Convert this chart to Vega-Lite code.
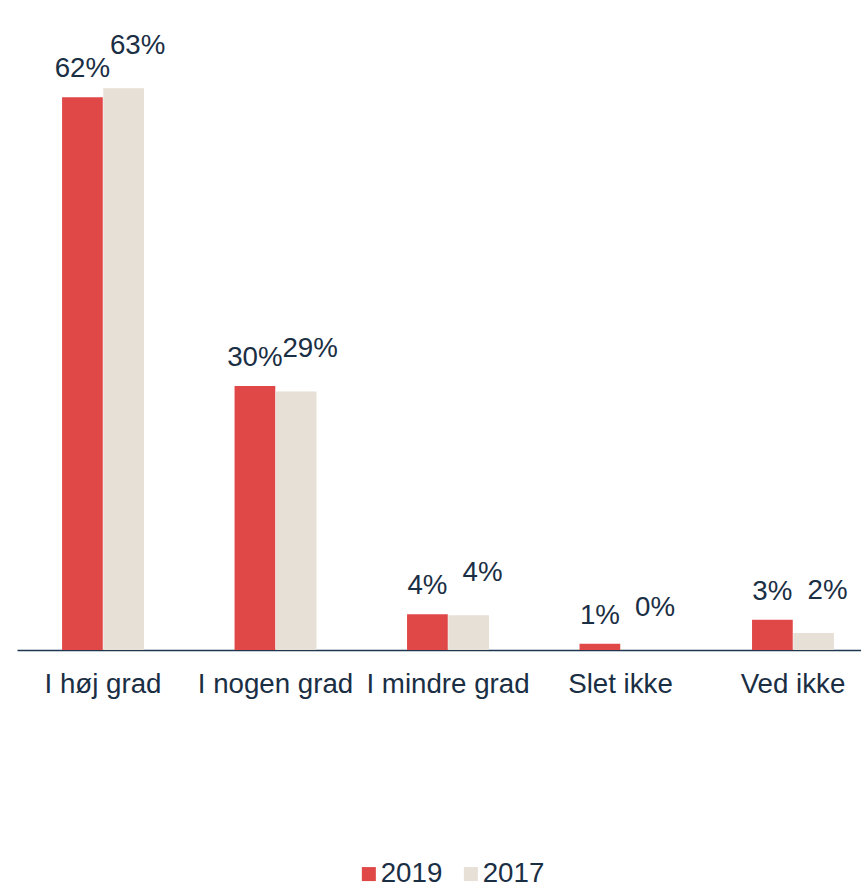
{
  "$schema": "https://vega.github.io/schema/vega-lite/v6.json",
  "autosize": {"type": "none"},
  "width": 844,
  "height": 642,
  "padding": {"left": 17, "top": 8, "right": 0, "bottom": 238},
  "background": "white",
  "config": {
    "view": {"stroke": null},
    "font": "Liberation Sans"
  },
  "data": {
    "values": [
      {"category": "I høj grad", "year": "2019", "value": 0.62},
      {"category": "I høj grad", "year": "2017", "value": 0.63},
      {"category": "I nogen grad", "year": "2019", "value": 0.296},
      {"category": "I nogen grad", "year": "2017", "value": 0.29},
      {"category": "I mindre grad", "year": "2019", "value": 0.04},
      {"category": "I mindre grad", "year": "2017", "value": 0.039},
      {"category": "Slet ikke", "year": "2019", "value": 0.007},
      {"category": "Slet ikke", "year": "2017", "value": 0.0},
      {"category": "Ved ikke", "year": "2019", "value": 0.034},
      {"category": "Ved ikke", "year": "2017", "value": 0.019}
    ]
  },
  "encoding": {
    "x": {
      "field": "category", "type": "nominal", "sort": null,
      "scale": {"paddingInner": 0.525, "paddingOuter": 0.209, "align": 0.625},
      "axis": {
        "title": null, "labelAngle": 0, "ticks": false, "labelPadding": 20,
        "labelFontSize": 27.7, "labelColor": "#1A2E44", "labelFont": "Liberation Sans",
        "domainColor": "#1F3650", "domainWidth": 1.5, "labelOverlap": false, "labelLimit": 0
      }
    },
    "xOffset": {"field": "year", "type": "nominal", "sort": ["2019", "2017"], "scale": {"paddingInner": 0.012}},
    "y": {
      "field": "value", "type": "quantitative",
      "scale": {"domain": [0, 0.72], "nice": false, "zero": true},
      "axis": null
    }
  },
  "layer": [
    {
      "mark": {"type": "bar"},
      "encoding": {
        "color": {
          "field": "year", "type": "nominal",
          "scale": {"domain": ["2019", "2017"], "range": ["#E04848", "#E6E0D6"]},
          "legend": {
            "title": null, "orient": "none", "direction": "horizontal",
            "legendX": 338, "legendY": 852, "padding": 0,
            "symbolType": "square", "symbolSize": 196, "symbolStrokeWidth": 0,
            "labelFontSize": 27.7, "labelColor": "#1A2E44", "labelFont": "Liberation Sans",
            "labelOffset": -2, "columnPadding": 14
          }
        }
      }
    },
    {
      "transform": [{"filter": "datum.year === '2019'"}],
      "mark": {"type": "text", "baseline": "alphabetic", "dy": -20, "fontSize": 27.7, "color": "#1A2E44", "font": "Liberation Sans"},
      "encoding": {
        "text": {"field": "value", "type": "quantitative", "format": ".0%"}
      }
    },
    {
      "transform": [{"filter": "datum.year === '2017'"}],
      "mark": {"type": "text", "baseline": "alphabetic", "dx": 14, "dy": -34, "fontSize": 27.7, "color": "#1A2E44", "font": "Liberation Sans"},
      "encoding": {
        "text": {"field": "value", "type": "quantitative", "format": ".0%"}
      }
    }
  ]
}
